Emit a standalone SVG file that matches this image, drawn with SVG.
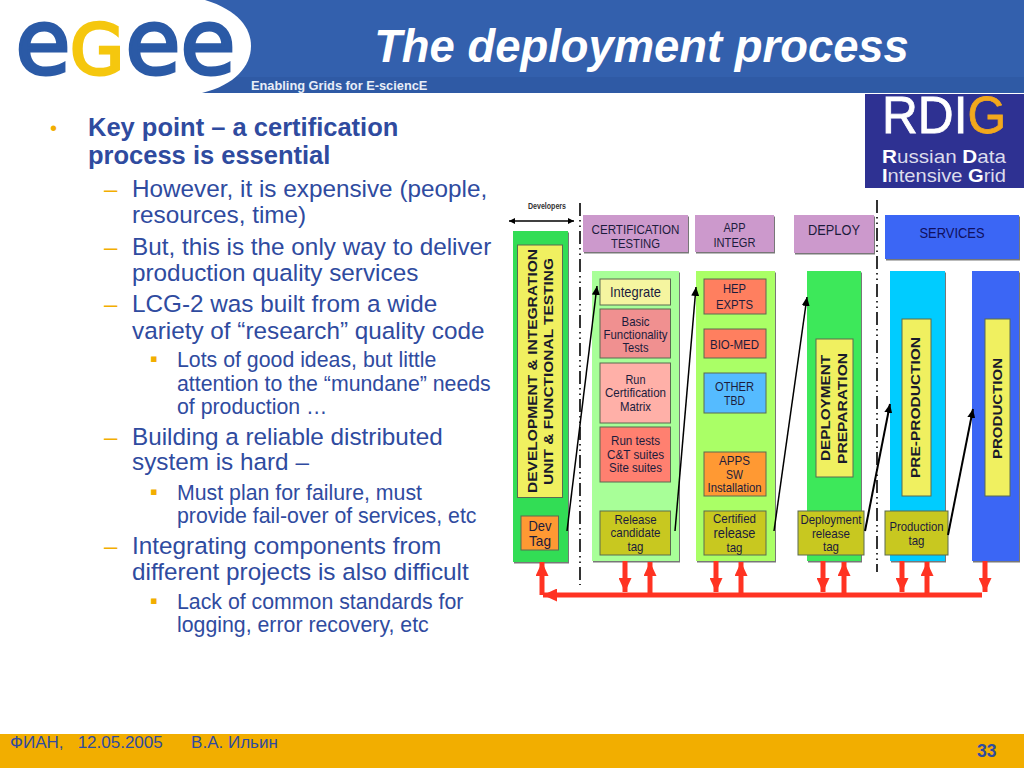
<svg xmlns="http://www.w3.org/2000/svg" width="1024" height="768" viewBox="0 0 1024 768">
<style>
text{font-family:"Liberation Sans",Arial,sans-serif}
.k{font-size:25.500px;font-weight:bold;fill:#2f4b9f}
.a{font-size:24.300px;fill:#2f4b9f}
.b{font-size:21.300px;fill:#2f4b9f}
.o{fill:#f2ae00}
.l{font-size:13px;fill:#1c1c3c;text-anchor:middle}
.s{stroke:#5a6a50;stroke-width:1}
.v{font-size:12.500px;font-weight:bold;fill:#1a1a2a;text-anchor:middle}
.d{fill:none;stroke:#000;stroke-width:1.600;stroke-dasharray:13 4 1.500 4 1.500 4}
.ar{fill:none;stroke:#000;stroke-width:1.500;marker-end:url(#bk)}
.r{fill:none;stroke:#ff3322;stroke-width:5;marker-end:url(#rd)}
.logo{font-family:"DejaVu Sans",sans-serif;font-size:90px;stroke-width:3px;text-anchor:middle}
</style>
<defs>
<marker id="bk" markerUnits="userSpaceOnUse" markerWidth="10" markerHeight="8" refX="9" refY="4" orient="auto"><path d="M0 0L9 4L0 8z" fill="#000"/></marker>
<marker id="rd" markerUnits="userSpaceOnUse" markerWidth="14" markerHeight="13" refX="14" refY="6.500" orient="auto"><path d="M0 0L14 6.500L0 13z" fill="#ff3322"/></marker>
<marker id="bs" markerUnits="userSpaceOnUse" markerWidth="7" markerHeight="6" refX="6" refY="3" orient="auto-start-reverse"><path d="M0 0L6 3L0 6z" fill="#000"/></marker>
<filter id="sh" x="-5%" y="-5%" width="110%" height="110%"><feDropShadow dx="1" dy="1.500" stdDeviation="0.500" flood-color="#777"/></filter>
</defs>
<rect width="1024" height="768" fill="#fff"/>
<g id="header">
<rect width="1024" height="93" fill="#3360ad"/>
<rect y="77" width="1024" height="16" fill="#2f5aa5"/>
<path d="M0 0H205C238 10 251 28 251 46C251 66 235 85 202 93H0z" fill="#fff"/>
<text x="641.500" y="62" font-size="45.400" font-weight="bold" font-style="italic" fill="#fff" text-anchor="middle">The deployment process</text>
<text x="251" y="90" font-size="12.800" font-weight="bold" fill="#e8eef8">Enabling Grids for E-sciencE</text>
</g>
<g id="logo">
<text class="logo" x="43" y="74" fill="#2b5aa6" stroke="#2b5aa6">e</text>
<text class="logo" x="97" y="74" fill="#f5c70e" stroke="#f5c70e" style="font-size:70px">G</text>
<text class="logo" x="153" y="74" fill="#2b5aa6" stroke="#2b5aa6">e</text>
<text class="logo" x="208" y="74" fill="#2b5aa6" stroke="#2b5aa6">e</text>
</g>
<g id="rdig">
<rect x="865" y="94" width="159" height="94" fill="#2e3192"/>
<text x="882" y="133" font-size="52" fill="#fff" stroke="#fff" stroke-width="0.800" textLength="124" lengthAdjust="spacingAndGlyphs">RDI<tspan fill="#f2a81d" stroke="#f2a81d">G</tspan></text>
<text x="882" y="163" font-size="19" fill="#dcdcec" textLength="124" lengthAdjust="spacingAndGlyphs"><tspan font-weight="bold" fill="#fff">R</tspan>ussian <tspan font-weight="bold" fill="#fff">D</tspan>ata</text>
<text x="882" y="182" font-size="19" fill="#dcdcec" textLength="124" lengthAdjust="spacingAndGlyphs"><tspan font-weight="bold" fill="#fff">I</tspan>ntensive <tspan font-weight="bold" fill="#fff">G</tspan>rid</text>
</g>
<g id="body-text">
<text class="o" x="50" y="135" font-size="20">•</text>
<text class="k" x="88" y="136">Key point – a certification</text>
<text class="k" x="88" y="164">process is essential</text>
<text class="o" x="104" y="197" font-size="24">–</text>
<text class="a" x="132" y="197">However, it is expensive (people,</text>
<text class="a" x="132" y="223">resources, time)</text>
<text class="o" x="104" y="255" font-size="24">–</text>
<text class="a" x="132" y="255">But, this is the only way to deliver</text>
<text class="a" x="132" y="281">production quality services</text>
<text class="o" x="104" y="312" font-size="24">–</text>
<text class="a" x="132" y="312">LCG-2 was built from a wide</text>
<text class="a" x="132" y="339">variety of “research” quality code</text>
<text class="o" x="150" y="366" font-size="22">▪</text>
<text class="b" x="177" y="367">Lots of good ideas, but little</text>
<text class="b" x="177" y="391">attention to the “mundane” needs</text>
<text class="b" x="177" y="414">of production …</text>
<text class="o" x="104" y="445" font-size="24">–</text>
<text class="a" x="132" y="445">Building a reliable distributed</text>
<text class="a" x="132" y="470">system is hard –</text>
<text class="o" x="150" y="499" font-size="22">▪</text>
<text class="b" x="177" y="500">Must plan for failure, must</text>
<text class="b" x="177" y="523">provide fail-over of services, etc</text>
<text class="o" x="104" y="554" font-size="24">–</text>
<text class="a" x="132" y="554">Integrating components from</text>
<text class="a" x="132" y="580">different projects is also difficult</text>
<text class="o" x="150" y="608" font-size="22">▪</text>
<text class="b" x="177" y="609">Lack of common standards for</text>
<text class="b" x="177" y="632">logging, error recovery, etc</text>
</g>
<g id="col-headers" filter="url(#sh)">
<rect x="583" y="215" width="105" height="37" fill="#cc99cc"/>
<rect x="695" y="215" width="79" height="37" fill="#cc99cc"/>
<rect x="794" y="215" width="80" height="38" fill="#cc99cc"/>
<rect x="885" y="215" width="134" height="44" fill="#3a66f5"/>
</g>
<g id="cert-header"><text class="l" x="635.500" y="234" textLength="88" lengthAdjust="spacingAndGlyphs">CERTIFICATION</text><text class="l" x="635.500" y="248" textLength="49" lengthAdjust="spacingAndGlyphs">TESTING</text></g>
<g id="app-header"><text class="l" x="734.500" y="232" textLength="22" lengthAdjust="spacingAndGlyphs">APP</text><text class="l" x="734.500" y="247" textLength="42" lengthAdjust="spacingAndGlyphs">INTEGR</text></g>
<g id="deploy-header"><text class="l" x="834" y="235" style="font-size:14.500px" textLength="52" lengthAdjust="spacingAndGlyphs">DEPLOY</text></g>
<g id="services-header"><text class="l" x="952" y="238" style="font-size:14.500px;fill:#101060" textLength="65" lengthAdjust="spacingAndGlyphs">SERVICES</text></g>
<g id="columns" filter="url(#sh)">
<rect x="513" y="231" width="55" height="331" fill="#33dd55"/>
<rect x="592" y="271" width="87" height="290" fill="#a8ff98"/>
<rect x="696" y="271" width="79" height="290" fill="#aaff66"/>
<rect x="807" y="271" width="54" height="290" fill="#3ce85a"/>
<rect x="890" y="271" width="55" height="290" fill="#00ccff"/>
<rect x="972" y="271" width="47" height="290" fill="#3a66f5"/>
</g>
<g id="dev-integration"><rect class="s" x="517.500" y="245" width="45" height="252.500" fill="#f0f060"/>
<text class="v" transform="translate(537 371) rotate(-90)" textLength="244" lengthAdjust="spacingAndGlyphs">DEVELOPMENT &amp; INTEGRATION</text>
<text class="v" transform="translate(553 371.500) rotate(-90)" textLength="227" lengthAdjust="spacingAndGlyphs">UNIT &amp; FUNCTIONAL TESTING</text></g>
<g id="dev-tag"><rect class="s" x="521" y="516" width="37.500" height="34" fill="#ff9933"/><text class="l" x="540" y="531" style="font-size:15px" textLength="23" lengthAdjust="spacingAndGlyphs">Dev</text><text class="l" x="540" y="546" style="font-size:15px" textLength="22" lengthAdjust="spacingAndGlyphs">Tag</text></g>
<g id="integrate"><rect class="s" x="600" y="279" width="70.500" height="26" fill="#f5f5a0"/><text class="l" x="635.500" y="297" style="font-size:14.500px" textLength="51" lengthAdjust="spacingAndGlyphs">Integrate</text></g>
<g id="basic"><rect class="s" x="600" y="309" width="70.500" height="49" fill="#f09090"/><text class="l" x="635.500" y="326" textLength="28" lengthAdjust="spacingAndGlyphs">Basic</text><text class="l" x="635.500" y="339" textLength="64" lengthAdjust="spacingAndGlyphs">Functionality</text><text class="l" x="635.500" y="352" textLength="26" lengthAdjust="spacingAndGlyphs">Tests</text></g>
<g id="run-cert"><rect class="s" x="600" y="363" width="70.500" height="60" fill="#ffb0a8"/><text class="l" x="635.500" y="384" textLength="20" lengthAdjust="spacingAndGlyphs">Run</text><text class="l" x="635.500" y="397" textLength="61" lengthAdjust="spacingAndGlyphs">Certification</text><text class="l" x="635.500" y="411" textLength="31" lengthAdjust="spacingAndGlyphs">Matrix</text></g>
<g id="run-tests"><rect class="s" x="600" y="427" width="70.500" height="55" fill="#ff8070"/><text class="l" x="635.500" y="445" textLength="49" lengthAdjust="spacingAndGlyphs">Run tests</text><text class="l" x="635.500" y="459" textLength="57" lengthAdjust="spacingAndGlyphs">C&amp;T suites</text><text class="l" x="635.500" y="472" textLength="53" lengthAdjust="spacingAndGlyphs">Site suites</text></g>
<g id="release"><rect class="s" x="600" y="511" width="70.500" height="44" fill="#c8c820"/><text class="l" x="635.500" y="524" textLength="42" lengthAdjust="spacingAndGlyphs">Release</text><text class="l" x="635.500" y="537" textLength="50" lengthAdjust="spacingAndGlyphs">candidate</text><text class="l" x="635.500" y="551" textLength="16" lengthAdjust="spacingAndGlyphs">tag</text></g>
<g id="hep"><rect class="s" x="704" y="279" width="62" height="35" fill="#ff7f5f"/><text class="l" x="734.500" y="293" textLength="23" lengthAdjust="spacingAndGlyphs">HEP</text><text class="l" x="734.500" y="309" textLength="37" lengthAdjust="spacingAndGlyphs">EXPTS</text></g>
<g id="bio"><rect class="s" x="704" y="329" width="62" height="29" fill="#ff7f5f"/><text class="l" x="734.500" y="349" textLength="49" lengthAdjust="spacingAndGlyphs">BIO-MED</text></g>
<g id="other"><rect class="s" x="704" y="373" width="62" height="40" fill="#55bbff"/><text class="l" x="734.500" y="391" textLength="39" lengthAdjust="spacingAndGlyphs">OTHER</text><text class="l" x="734.500" y="405" textLength="21" lengthAdjust="spacingAndGlyphs">TBD</text></g>
<g id="apps"><rect class="s" x="704" y="452" width="62" height="44" fill="#ff9933"/><text class="l" x="734.500" y="465" textLength="31" lengthAdjust="spacingAndGlyphs">APPS</text><text class="l" x="734.500" y="479" textLength="17" lengthAdjust="spacingAndGlyphs">SW</text><text class="l" x="734.500" y="492" textLength="54" lengthAdjust="spacingAndGlyphs">Installation</text></g>
<g id="certified"><rect class="s" x="704" y="511" width="62" height="44" fill="#c8c820"/><text class="l" x="734.500" y="523" textLength="43" lengthAdjust="spacingAndGlyphs">Certified</text><text class="l" x="734.500" y="538" style="font-size:14px" textLength="42" lengthAdjust="spacingAndGlyphs">release</text><text class="l" x="734.500" y="552" textLength="16" lengthAdjust="spacingAndGlyphs">tag</text></g>
<g id="deploy-prep"><rect class="s" x="816" y="339" width="37" height="138" fill="#f0f060"/>
<text class="v" transform="translate(830 408) rotate(-90)" textLength="106" lengthAdjust="spacingAndGlyphs">DEPLOYMENT</text>
<text class="v" transform="translate(847 408.500) rotate(-90)" textLength="111" lengthAdjust="spacingAndGlyphs">PREPARATION</text></g>
<g id="deploy-tag"><rect class="s" x="798" y="511" width="66" height="44" fill="#c8c820"/><text class="l" x="831" y="524" textLength="61" lengthAdjust="spacingAndGlyphs">Deployment</text><text class="l" x="831" y="538" textLength="38" lengthAdjust="spacingAndGlyphs">release</text><text class="l" x="831" y="551" textLength="16" lengthAdjust="spacingAndGlyphs">tag</text></g>
<g id="pre-prod"><rect class="s" x="902" y="319" width="29" height="177" fill="#f0f060"/>
<text class="v" transform="translate(920 407.500) rotate(-90)" textLength="141" lengthAdjust="spacingAndGlyphs">PRE-PRODUCTION</text></g>
<g id="prod-tag"><rect class="s" x="885" y="511" width="63" height="44" fill="#c8c820"/><text class="l" x="916.500" y="531" textLength="54" lengthAdjust="spacingAndGlyphs">Production</text><text class="l" x="916.500" y="545" textLength="16" lengthAdjust="spacingAndGlyphs">tag</text></g>
<g id="production"><rect class="s" x="985" y="319" width="25" height="177" fill="#f0f060"/>
<text class="v" transform="translate(1002 408.500) rotate(-90)" textLength="101" lengthAdjust="spacingAndGlyphs">PRODUCTION</text></g>
<g id="developers-label"><text x="547" y="209" font-size="9" font-weight="bold" fill="#333" text-anchor="middle" textLength="38" lengthAdjust="spacingAndGlyphs">Developers</text></g>
<g id="connectors">
<path class="d" d="M580 203V585"/>
<path class="d" d="M877 200V572"/>
<path d="M509 221H574" fill="none" stroke="#000" stroke-width="1.300" marker-start="url(#bs)" marker-end="url(#bs)"/>
<path class="ar" d="M567 531L597 286"/>
<path class="ar" d="M675 531L696 287"/>
<path class="ar" d="M774 531L807 297"/>
<path class="ar" style="stroke-width:2" d="M865 531L890 404"/>
<path class="ar" style="stroke-width:2" d="M948 535L973 409"/>
<path d="M982 595H543" fill="none" stroke="#ff3322" stroke-width="5" marker-end="url(#rd)"/>
<path class="r" d="M542 595V562"/>
<path class="r" d="M625 561V592"/>
<path class="r" d="M650 595V562"/>
<path class="r" d="M716 561V592"/>
<path class="r" d="M741 595V562"/>
<path class="r" d="M823 561V592"/>
<path class="r" d="M844 595V562"/>
<path class="r" d="M902 561V592"/>
<path class="r" d="M927 595V562"/>
<path class="r" d="M985 561V592"/>
</g>
<g id="footer">
<rect y="734" width="1024" height="34" fill="#f2ae00"/>
<text x="10" y="748" font-size="17" fill="#2f4b9f" xml:space="preserve">ФИАН,   12.05.2005      В.А. Ильин</text>
<text x="977" y="757" font-size="17.500" font-weight="bold" fill="#2f4b9f">33</text>
</g>
</svg>
